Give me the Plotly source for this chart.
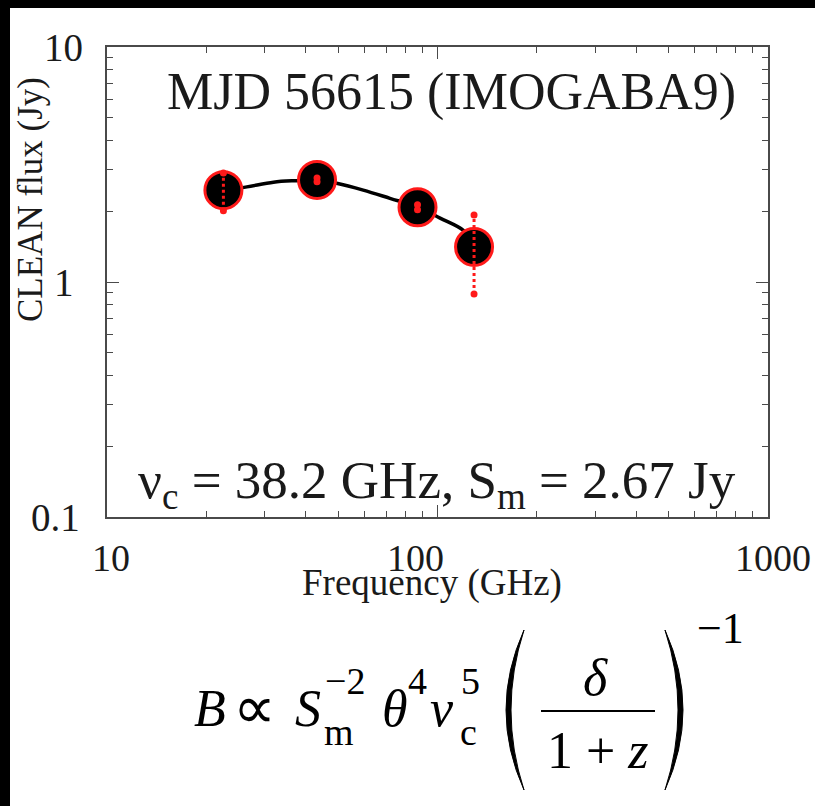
import math
import plotly.graph_objects as go

# ---- data -------------------------------------------------------------
freq = [22.5, 43.2, 87.0, 129.0]          # GHz
flux = [2.46, 2.72, 2.08, 1.41]           # Jy
flux_err = [0.45, 0.05, 0.05, 0.52]       # Jy

fit_freq = [22.8, 26.5, 31.9, 37.5, 43.1, 49.5, 59.6, 71.8, 87.5, 101.8, 119.7, 128.3]
fit_flux = [2.46, 2.54, 2.66, 2.70, 2.72, 2.63, 2.46, 2.27, 2.08, 1.87, 1.66, 1.48]

x_tick_vals = [10, 100, 1000]
x_tick_text = ["10", "100", "1000"]
y_tick_vals = [0.1, 1, 10]
y_tick_text = ["0.1", "1", "10"]
x_minor = [20, 30, 40, 50, 60, 70, 80, 90, 200, 300, 400, 500, 600, 700, 800, 900]
y_minor = [0.2, 0.3, 0.4, 0.5, 0.6, 0.7, 0.8, 0.9, 2, 3, 4, 5, 6, 7, 8, 9]

# ---- page geometry (pixels) --------------------------------------------
W, H = 815, 806
PL, PR, PT, PB = 107, 768, 47, 517


def px(x):
    return (x - PL) / (PR - PL)


def py(y):
    return (PB - y) / (PB - PT)


SERIF = "Liberation Serif, Times New Roman, serif"
FRAME = "#4a4a4a"
TXT = "#1a1a1a"

fig = go.Figure()

# fitted spectrum
fig.add_trace(go.Scatter(
    x=fit_freq, y=fit_flux, mode="lines",
    line=dict(color="black", width=3.5, shape="spline"),
    hoverinfo="skip", showlegend=False))

# measured fluxes
fig.add_trace(go.Scatter(
    x=freq, y=flux, mode="markers",
    marker=dict(size=37, color="black", line=dict(color="#ff1a1a", width=3)),
    showlegend=False))

# dotted error bars drawn on top of the markers
eb_x, eb_y, cap_x, cap_y = [], [], [], []
for f, v, e in zip(freq, flux, flux_err):
    eb_x += [f, f, None]
    eb_y += [v - e, v + e, None]
    cap_x += [f, f]
    cap_y += [v - e, v + e]
fig.add_trace(go.Scatter(
    x=eb_x, y=eb_y, mode="lines",
    line=dict(color="#ff1a1a", width=3, dash="dot"),
    hoverinfo="skip", showlegend=False))
fig.add_trace(go.Scatter(
    x=cap_x, y=cap_y, mode="markers",
    marker=dict(size=7, color="#ff1a1a", symbol="circle"),
    hoverinfo="skip", showlegend=False))

axis_common = dict(
    type="log", showline=True, linecolor=FRAME, linewidth=1.5,
    mirror="allticks", ticks="inside", ticklen=12, tickwidth=1.2,
    tickcolor=FRAME, showgrid=False, zeroline=False, showticklabels=False,
)

fig.update_xaxes(
    range=[1, 3], tickvals=x_tick_vals,
    minor=dict(tickvals=x_minor, ticks="inside", ticklen=6,
               tickwidth=1.2, tickcolor=FRAME, showgrid=False),
    **axis_common)
fig.update_yaxes(
    range=[-1, 1], tickvals=y_tick_vals,
    minor=dict(tickvals=y_minor, ticks="inside", ticklen=6,
               tickwidth=1.2, tickcolor=FRAME, showgrid=False),
    **axis_common)

ann = []


def label(text, x, y, size, anchor="center", angle=0, italic=False, color=TXT):
    if italic:
        text = "<i>" + text + "</i>"
    ann.append(dict(x=px(x), y=py(y), xref="paper", yref="paper", text=text,
                    showarrow=False, xanchor=anchor, yanchor="middle",
                    textangle=angle,
                    font=dict(family=SERIF, size=size, color=color)))


# x tick labels (placed by hand: the middle one sits left of its tick)
x_label_shift = [4, -22, 5]
for v, t, s in zip(x_tick_vals, x_tick_text, x_label_shift):
    ann.append(dict(x=math.log10(v), xref="x", y=py(558), yref="paper",
                    text=t, showarrow=False, xshift=s,
                    font=dict(family=SERIF, size=38, color=TXT),
                    xanchor="center", yanchor="middle"))

# y tick labels, centred in the left gutter
y_label_x = [55, 64, 63]
for v, t, xx in zip(y_tick_vals, y_tick_text, y_label_x):
    ann.append(dict(x=px(xx), xref="paper", y=math.log10(v), yref="y",
                    text=t, showarrow=False,
                    font=dict(family=SERIF, size=39, color=TXT),
                    xanchor="center", yanchor="middle"))

# axis titles
label("Frequency (GHz)", 432, 583, 37)
label("CLEAN flux (Jy)", 30, 200, 35, angle=-90)

# in-panel labels
label("MJD 56615 (IMOGABA9)", 451, 92, 52)
label("\u03bd<sub>c</sub> = 38.2 GHz, S<sub>m</sub> = 2.67 Jy", 437, 484, 53)

# magnetic-field scaling relation below the panel
MATH = 52
SUP = 38
Y_MAIN, Y_SUP, Y_SUB = 708, 681, 732

label("B", 192, Y_MAIN, MATH, anchor="left", italic=True, color="black")
label("\u221d", 231, Y_MAIN, 60, anchor="left", color="black")
label("S", 293, Y_MAIN, MATH, anchor="left", italic=True, color="black")
label("m", 322, Y_SUB, SUP, anchor="left", color="black")
label("\u22122", 323, Y_SUP, SUP, anchor="left", color="black")
label("\u03b8", 380, Y_MAIN, MATH, anchor="left", italic=True, color="black")
label("4", 406, Y_SUP, SUP, anchor="left", color="black")
label("\u03bd", 428, Y_MAIN, MATH, anchor="left", italic=True, color="black")
label("c", 458, Y_SUB, SUP, anchor="left", color="black")
label("5", 459, Y_SUP, SUP, anchor="left", color="black")
label("\u03b4", 595, 677, MATH, italic=True, color="black")
label("1 + <i>z</i>", 598, 750, MATH, color="black")
label("\u22121", 695, 628, 44, anchor="left", color="black")

fig.update_layout(annotations=ann)

shapes = []
# fraction bar
shapes.append(dict(type="line", xref="paper", yref="paper",
                   x0=px(541), x1=px(655), y0=py(711), y1=py(711),
                   line=dict(color="black", width=2)))


def paren(x_tip, x_bulge, x_inner, top, bot):
    mid = (top + bot) / 2
    return (f"M {px(x_tip)},{py(top)} Q {px(x_bulge)},{py(mid)} {px(x_tip)},{py(bot)} "
            f"Q {px(x_inner)},{py(mid)} {px(x_tip)},{py(top)} Z")


shapes.append(dict(type="path", xref="paper", yref="paper",
                   path=paren(524, 488, 498, 630, 790),
                   fillcolor="black", line=dict(color="black", width=1)))
shapes.append(dict(type="path", xref="paper", yref="paper",
                   path=paren(665, 701, 691, 630, 790),
                   fillcolor="black", line=dict(color="black", width=1)))

# dark page border along the top and left edges
shapes.append(dict(type="rect", xref="paper", yref="paper", layer="above",
                   x0=px(-5), x1=px(W + 5), y0=py(8), y1=py(-5),
                   fillcolor="black", line=dict(width=0)))
shapes.append(dict(type="rect", xref="paper", yref="paper", layer="above",
                   x0=px(-5), x1=px(10), y0=py(H + 5), y1=py(-5),
                   fillcolor="black", line=dict(width=0)))

fig.update_layout(
    shapes=shapes,
    width=W, height=H,
    margin=dict(l=PL, r=W - PR, t=PT, b=H - PB, autoexpand=False),
    paper_bgcolor="white", plot_bgcolor="white",
    showlegend=False,
)

fig.write_html("out.html")
